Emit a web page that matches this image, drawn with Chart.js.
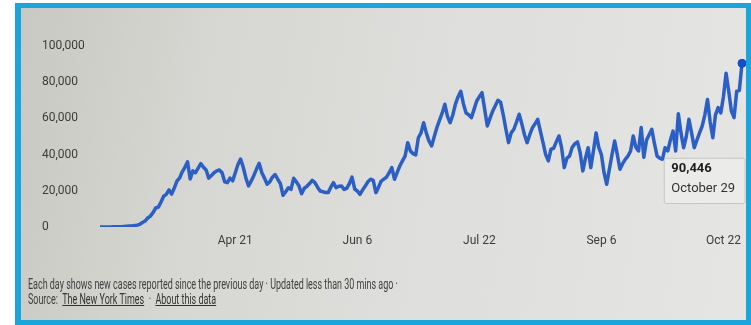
<!DOCTYPE html>
<html>
<head>
<meta charset="utf-8">
<script src="https://cdn.jsdelivr.net/npm/chart.js@4/dist/chart.umd.min.js"></script>
<style>
  html, body { margin: 0; padding: 0; width: 751px; height: 325px; overflow: hidden; background: #fff; }
  #frame {
    position: absolute; left: 15px; top: 3px; width: 736px; height: 322px;
    box-sizing: border-box; border: 5px solid #1aa6dd; border-left-width: 6px;
    background: linear-gradient(100deg, #c9c9c3 0%, #d6d6d2 25%, #dededc 55%, #e5e5e4 100%);
  }
  #chartBox { position: absolute; left: 0; top: 0; width: 751px; height: 325px; }
  .note {
    position: absolute; left: 28px; font-family: Roboto, sans-serif; font-size: 14px;
    color: #404040; white-space: nowrap; transform-origin: left center;
  }
  .note a { color: #333; text-decoration: underline; }
</style>
</head>
<body>
<div id="frame"></div>
<div id="chartBox"><canvas id="mycanvas" width="751" height="325"></canvas></div>
<div class="note" id="line1" style="top:276px">Each day shows new cases reported since the previous day · Updated less than 30 mins ago ·</div>
<div class="note" id="line2" style="top:291px">Source:&nbsp; <a>The New York Times</a> &nbsp;·&nbsp; <a>About this data</a></div>
<script>
// daily new cases, Mar 1 - Oct 29
var startDate = "2020-03-01";
var newCases = [
  10, 20, 30, 30, 50, 70, 100, 130, 200, 300, 400, 500, 600, 800,
  1000, 1500, 2500, 3300, 5000, 6000,
  8000, 10500, 11000, 13800, 17000, 18000, 20500, 18200, 21500, 25400,
  27000, 30500, 33000, 36000, 26500, 31000, 30000, 32500, 35000, 33000,
  31500, 27000, 28500, 30000, 31000, 31500, 30000, 25000, 24500, 27000,
  25500, 30000, 34500, 37500, 33000, 27000, 22700, 25400, 28500, 32000,
  35200, 30000, 27000, 23600, 25000, 27500, 29000, 26400, 24000, 17500,
  19500, 21700, 20800, 26900, 25000, 22700, 18400, 21400, 22500, 24000,
  25800, 24500, 22000, 19900, 19500, 19000, 19000, 22000, 24500, 21700,
  22500, 22700, 20800, 21400, 24000, 27600, 21000, 19900, 18000, 20500,
  22700, 25000, 26400, 25800, 19000, 22000, 25400, 26500, 27600, 30000,
  32800, 26400, 30000, 33700, 36500, 39200, 46600, 42000, 40500, 39800,
  49300, 52000, 57600, 52000, 47500, 44800, 50000, 55000, 59000, 63000,
  67800, 61000, 57600, 62000, 68000, 72000, 75000, 68000, 63000, 62000,
  60400, 65000, 69600, 72000, 74200, 65000, 55800, 60000, 64000, 67000,
  70000, 69000, 62000, 54000, 46600, 52000, 54000, 58000, 62300, 57000,
  51000, 46600, 51000, 54900, 57000, 59500, 53000, 46600, 40000, 36500,
  43000, 43500, 47000, 50300, 43800, 32800, 38000, 39200, 44000, 46000,
  47000, 41000, 31000, 38000, 43800, 32800, 42000, 52000, 44000, 40000,
  30000, 23600, 31900, 40000, 47500, 40000, 31900, 35000, 37400, 39200,
  42000, 50300, 44000, 42000, 55000, 38500, 48000, 51000, 54000, 46000,
  39200, 38000, 37400, 43800, 42000, 48000, 53000, 42000, 62600, 52000,
  43800, 50000, 59500, 52000, 43800, 48000, 52000, 55800, 62000, 70500,
  58000, 49300, 62000, 66000, 63000, 72000, 85000, 75000, 64000, 60400,
  75000, 75500, 90446
];
var tickDates = ["Apr 21", "Jun 6", "Jul 22", "Sep 6", "Oct 22"];
var yTicks = [0, 20000, 40000, 60000, 80000, 100000];

var shortMonths = ["Jan","Feb","Mar","Apr","May","Jun","Jul","Aug","Sep","Oct","Nov","Dec"];
var longMonths = ["January","February","March","April","May","June","July","August","September","October","November","December"];

var labels = [];
var longLabels = [];
var d0 = new Date(startDate + "T12:00:00");
for (var i = 0; i < newCases.length; i++) {
  var d = new Date(d0.getTime() + i * 86400000);
  labels.push(shortMonths[d.getMonth()] + " " + d.getDate());
  longLabels.push(longMonths[d.getMonth()] + " " + d.getDate());
}
var lastIdx = newCases.length - 1;
var blue = "#2b5fc6";

Chart.Tooltip.positioners.below = function(items) {
  if (!items.length) return false;
  var el = items[0].element;
  return { x: el.x + 1, y: el.y + 95 };
};

var ctx = document.getElementById("mycanvas");
var chart = new Chart(ctx, {
  type: "line",
  data: {
    labels: labels,
    datasets: [{
      data: newCases,
      borderColor: blue,
      backgroundColor: blue,
      borderWidth: 3.5,
      fill: false,
      tension: 0,
      borderJoinStyle: "round",
      pointRadius: function(c) { return c.dataIndex === lastIdx ? 4 : 0; },
      pointHoverRadius: function(c) { return c.dataIndex === lastIdx ? 4 : 0; },
      pointBackgroundColor: "#3a64b8",
      pointBorderWidth: 0
    }]
  },
  options: {
    responsive: false,
    animation: false,
    events: [],
    layout: { padding: { left: 42, right: 9, top: 46, bottom: 68 } },
    scales: {
      x: {
        grid: { display: false, drawTicks: false },
        border: { display: false },
        afterBuildTicks: function(scale) {
          scale.ticks = tickDates.map(function(t) { return { value: labels.indexOf(t) }; });
        },
        afterFit: function(scale) { scale.height = 30; },
        ticks: {
          autoSkip: false, maxRotation: 0, padding: 7,
          color: "#3c3c3c", font: { family: "Roboto", size: 12 },
          callback: function(v) { return labels[v]; }
        }
      },
      y: {
        min: 0, max: 100000,
        grid: { display: false, drawTicks: false },
        border: { display: false },
        afterBuildTicks: function(scale) {
          scale.ticks = yTicks.map(function(v) { return { value: v }; });
        },
        afterFit: function(scale) { scale.width = 58; },
        ticks: {
          crossAlign: "far", color: "#3c3c3c", font: { family: "Roboto", size: 12 },
          callback: function(v) { return v.toLocaleString("en-US"); }
        }
      }
    },
    plugins: {
      legend: { display: false },
      tooltip: {
        enabled: true,
        position: "below",
        xAlign: "right", yAlign: "top",
        caretSize: 0, caretPadding: 0, cornerRadius: 2,
        backgroundColor: "#ebebe9",
        borderColor: "#c6c6c2", borderWidth: 1,
        titleColor: "#1e1e1e", bodyColor: "#333",
        titleFont: { family: "Roboto", size: 13, weight: "bold" },
        bodyFont: { family: "Roboto", size: 13 },
        titleMarginBottom: 4,
        padding: { top: 3, bottom: 7, left: 7, right: 10 },
        displayColors: false,
        callbacks: {
          title: function(items) { return items[0].raw.toLocaleString("en-US"); },
          label: function(item) { return longLabels[item.dataIndex]; }
        }
      }
    }
  }
});

chart.setActiveElements([{ datasetIndex: 0, index: lastIdx }]);
chart.tooltip.setActiveElements([{ datasetIndex: 0, index: lastIdx }], { x: 0, y: 0 });
chart.update();

// footer text is narrow in the source, squeeze it to the same width
var l1 = document.getElementById("line1");
var s = 370 / l1.offsetWidth;
l1.style.transform = "scaleX(" + s + ")";
document.getElementById("line2").style.transform = "scaleX(" + s + ")";
</script>
</body>
</html>
